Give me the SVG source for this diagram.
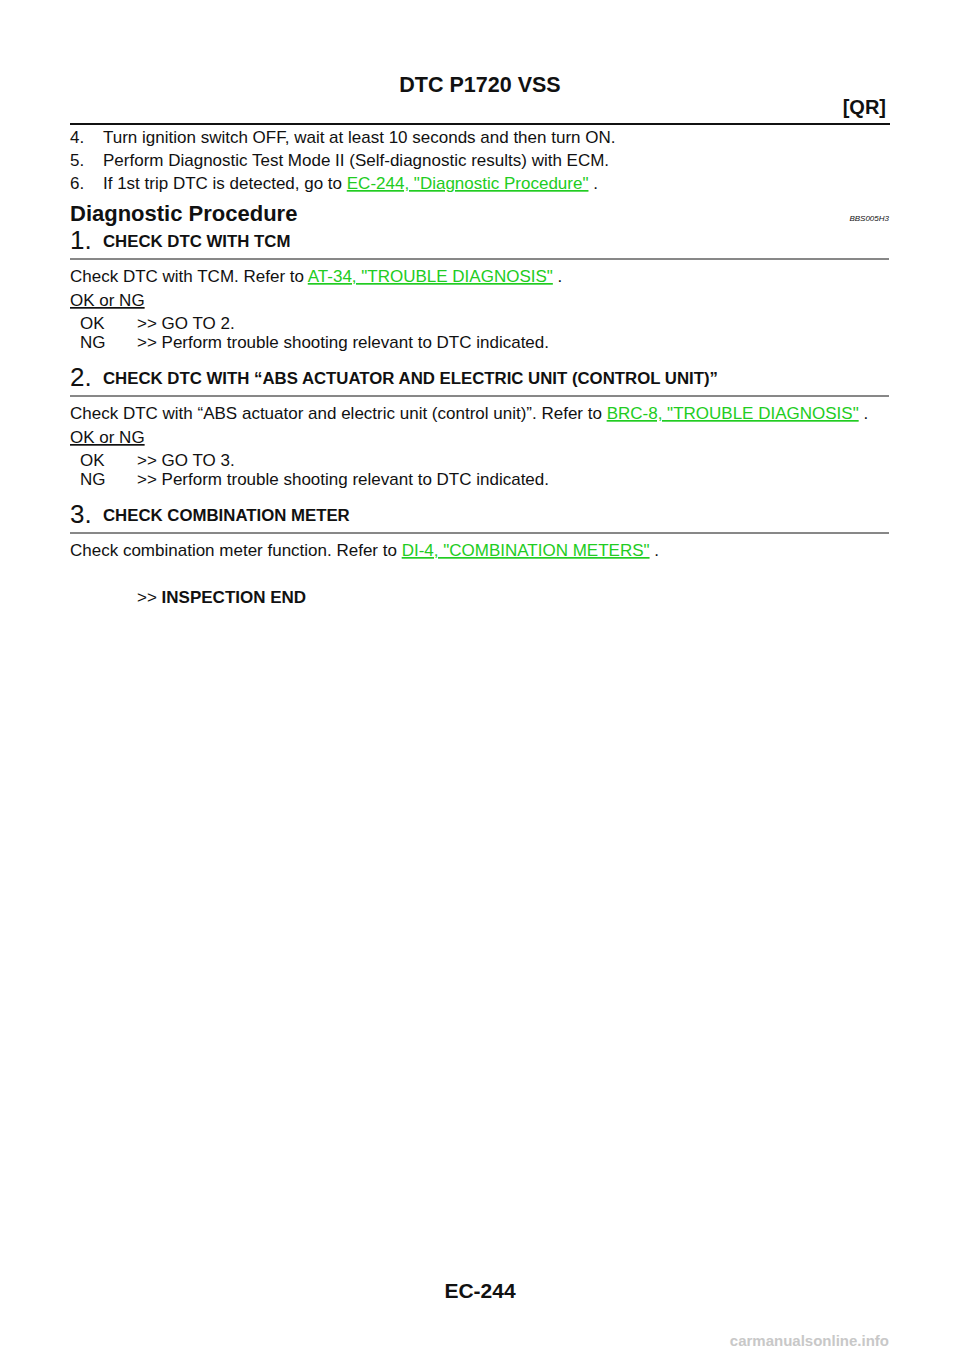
<svg xmlns="http://www.w3.org/2000/svg" width="960" height="1358" viewBox="0 0 960 1358">
<style>
text{font-family:"Liberation Sans",Arial,sans-serif;fill:#111}
.t{font-size:17px}
.b{font-weight:bold}
.h{font-size:16.8px;font-weight:bold}
.n{font-size:26px}
.l{fill:#22cc22;text-decoration:underline}
.u{text-decoration:underline}
</style>
<rect width="960" height="1358" fill="#fff"/>
<text x="480" y="92" text-anchor="middle" class="b" font-size="21.5">DTC P1720 VSS</text>
<text x="886" y="114" text-anchor="end" class="b" font-size="20">[QR]</text>
<line x1="70" y1="124" x2="890" y2="124" stroke="#111" stroke-width="2"/>
<text class="t" x="70" y="143">4.</text><text class="t" x="103" y="143">Turn ignition switch OFF, wait at least 10 seconds and then turn ON.</text>
<text class="t" x="70" y="166">5.</text><text class="t" x="103" y="166">Perform Diagnostic Test Mode II (Self-diagnostic results) with ECM.</text>
<text class="t" x="70" y="189">6.</text><text class="t" x="103" y="189">If 1st trip DTC is detected, go to <tspan class="l">EC-244, "Diagnostic Procedure"</tspan> .</text>
<text x="70" y="221" class="b" font-size="22">Diagnostic Procedure</text>
<text x="889" y="221" text-anchor="end" font-size="8" font-style="italic">BBS005H3</text>
<g id="step1">
<text class="n" x="70" y="249">1.</text>
<text class="h" x="103" y="247">CHECK DTC WITH TCM</text>
<line x1="70" y1="259" x2="889" y2="259" stroke="#111"/>
<text class="t" x="70" y="282">Check DTC with TCM. Refer to <tspan class="l">AT-34, "TROUBLE DIAGNOSIS"</tspan> .</text>
<text class="t u" x="70" y="306">OK or NG</text>
<text class="t" x="80" y="329">OK</text><text class="t" x="137" y="329">&gt;&gt; GO TO 2.</text>
<text class="t" x="80" y="348">NG</text><text class="t" x="137" y="348">&gt;&gt; Perform trouble shooting relevant to DTC indicated.</text>
</g>
<g id="step2">
<text class="n" x="70" y="386">2.</text>
<text class="h" x="103" y="384">CHECK DTC WITH “ABS ACTUATOR AND ELECTRIC UNIT (CONTROL UNIT)”</text>
<line x1="70" y1="396" x2="889" y2="396" stroke="#111"/>
<text class="t" x="70" y="419">Check DTC with “ABS actuator and electric unit (control unit)”. Refer to <tspan class="l">BRC-8, "TROUBLE DIAGNOSIS"</tspan> .</text>
<text class="t u" x="70" y="443">OK or NG</text>
<text class="t" x="80" y="466">OK</text><text class="t" x="137" y="466">&gt;&gt; GO TO 3.</text>
<text class="t" x="80" y="485">NG</text><text class="t" x="137" y="485">&gt;&gt; Perform trouble shooting relevant to DTC indicated.</text>
</g>
<g id="step3">
<text class="n" x="70" y="523">3.</text>
<text class="h" x="103" y="521">CHECK COMBINATION METER</text>
<line x1="70" y1="533" x2="889" y2="533" stroke="#111"/>
<text class="t" x="70" y="556">Check combination meter function. Refer to <tspan class="l">DI-4, "COMBINATION METERS"</tspan> .</text>
<text x="137" y="603" font-size="17">&gt;&gt; <tspan class="b">INSPECTION END</tspan></text>
</g>
<text x="480" y="1298" text-anchor="middle" class="b" font-size="21">EC-244</text>
<text x="889" y="1346" text-anchor="end" font-size="15" style="fill:#c8c8c8" class="b">carmanualsonline.info</text>
</svg>
